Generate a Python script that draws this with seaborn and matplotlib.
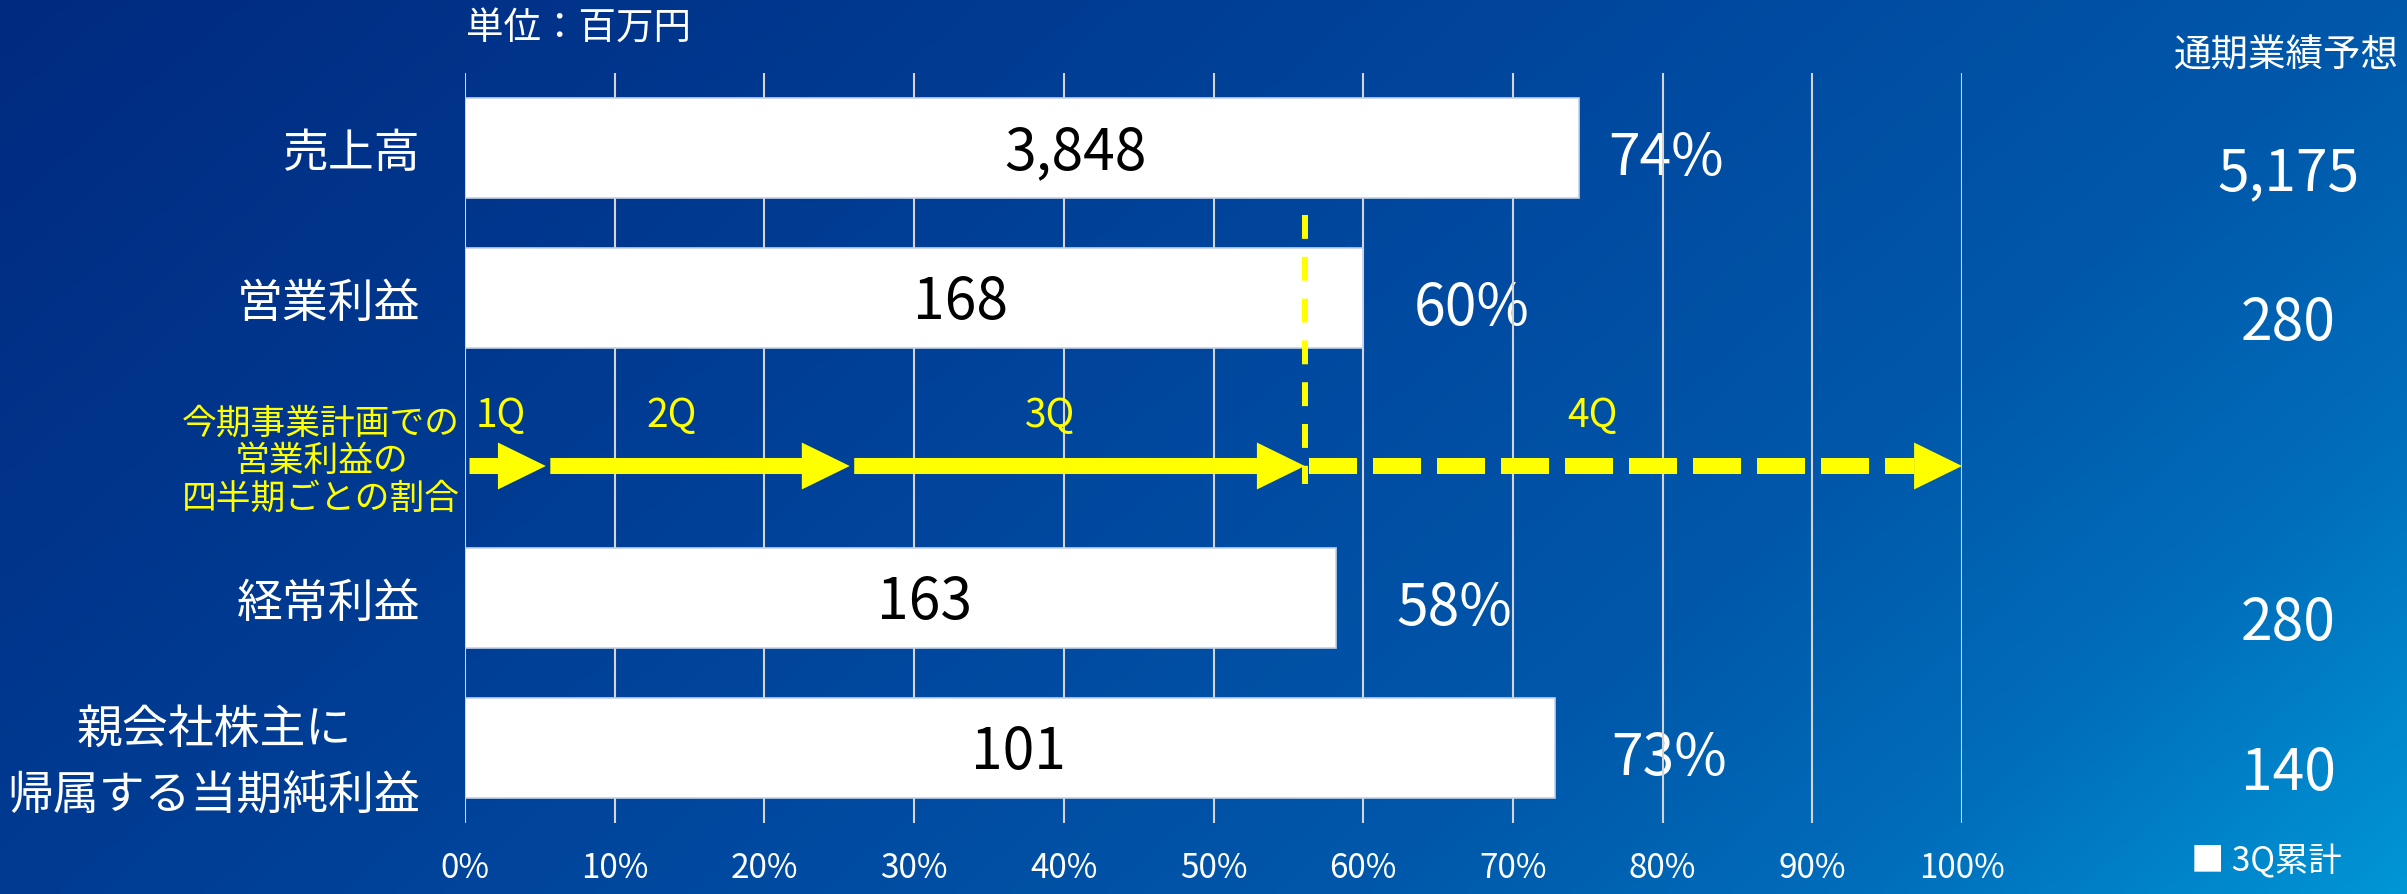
import numpy as np
import pandas as pd
import matplotlib
matplotlib.use('Agg')
import matplotlib.pyplot as plt
import seaborn as sns
from matplotlib.colors import LinearSegmentedColormap
from matplotlib.patches import Polygon

# ---------------- data ----------------
categories = ['売上高', '営業利益', '経常利益', '親会社株主に\n帰属する当期純利益']
actual_3q = [3848, 168, 163, 101]          # 3Q累計 (百万円)
forecast = [5175, 280, 280, 140]           # 通期業績予想 (百万円)
progress_pct = [74.4, 60.0, 58.2, 72.8]    # 進捗率 (%)
quarter_labels = ['1Q', '2Q', '3Q', '4Q']
plan_cum_pct = [0.0, 5.4, 25.7, 56.1, 100.0]  # 営業利益計画の四半期累計割合
x_ticks = [0, 10, 20, 30, 40, 50, 60, 70, 80, 90, 100]

ARROW_SLOT = '__arrow__'
order = categories[:2] + [ARROW_SLOT] + categories[2:]
df = pd.DataFrame({'category': categories, 'pct': progress_pct})

plt.rcParams['font.family'] = ['Noto Sans CJK JP', 'DejaVu Sans']
YELLOW = '#FFFF00'

W, H = 2407, 894
fig = plt.figure(figsize=(W / 100, H / 100), dpi=100)

# background gradient
bg = fig.add_axes([0, 0, 1, 1], zorder=-10)
xx, yy = np.meshgrid(np.linspace(0, 1, 400), np.linspace(0, 1, 160))
t = 0.7 * xx + 0.3 * yy
cmap = LinearSegmentedColormap.from_list('bg', [
    (0.0, '#002a80'), (0.3, '#003b92'), (0.5, '#0049a0'),
    (0.7, '#0058aa'), (0.85, '#006fbc'), (1.0, '#0096d6')])
bg.imshow(t, cmap=cmap, aspect='auto', extent=[0, 1, 1, 0], vmin=0, vmax=1)
bg.set_axis_off()

ax = fig.add_axes([465 / W, 1 - 823 / H, (1962 - 465) / W, (823 - 73) / H])
ax.set_facecolor('none')

sns.barplot(data=df, y='category', x='pct', order=order, orient='h',
            color='white', saturation=1, width=0.667,
            edgecolor='#c3d1e6', linewidth=1.2, ax=ax, zorder=2)

ax.set_xlim(0, 100)
ax.set_ylim(4.5, -0.5)
ax.set_xlabel('')
ax.set_ylabel('')
for s in ax.spines.values():
    s.set_visible(False)

ax.set_axisbelow(True)
ax.xaxis.grid(True, color='#d4d4d4', linewidth=1.5)
ax.yaxis.grid(False)
ax.set_xticks(x_ticks)
ax.set_xticklabels([f'{v}%' for v in x_ticks], color='white', fontsize=24)
ax.tick_params(axis='x', length=0, pad=20)

ax.set_yticks(range(len(order)))
ax.set_yticklabels(['' if c == ARROW_SLOT else c for c in order],
                   color='white', fontsize=33, linespacing=1.5)
for lab in ax.get_yticklabels():
    lab.set_multialignment('center')
ax.tick_params(axis='y', length=0, pad=32)

# label layout (x positions in % units of the axis)
value_label_x = [40.8, 33.1, 30.7, 37.0]
pct_label_x = [76.4, 63.4, 62.2, 76.6]

for cat, val, pct, fc, vx, px in zip(categories, actual_3q, progress_pct,
                                     forecast, value_label_x, pct_label_x):
    yi = order.index(cat)
    ax.text(vx, yi + 0.03, f'{val:,}', ha='center', va='center',
            fontsize=41, color='black', zorder=5)
    ax.text(px, yi + 0.07, f'{round(pct)}%', ha='left', va='center',
            fontsize=41, color='white', zorder=0.3)
    ax.text(121.8, yi + 0.17, f'{fc:,}', ha='center', va='center',
            fontsize=41, color='white', clip_on=False)

ax.text(121.7, -0.61, '通期業績予想', ha='center', va='center',
        fontsize=27, color='white', clip_on=False)
ax.text(0.1, -0.79, '単位：百万円', ha='left', va='center',
        fontsize=27, color='white', clip_on=False)
ax.text(115.3, 4.76, '■ 3Q累計', ha='left', va='center',
        fontsize=24, color='white', clip_on=False)

# quarterly plan arrows
ay = 2.12
hw, hl, sw = 0.313, 3.2, 0.107
for q in range(3):
    start = plan_cum_pct[q] + 0.3
    end = plan_cum_pct[q + 1]
    ax.arrow(start, ay, end - start, 0, width=sw, head_width=hw,
             head_length=hl, length_includes_head=True, fc=YELLOW,
             ec='none', zorder=6, clip_on=False)
# 4Q dashed arrow
s4 = plan_cum_pct[3] + 0.3
e4 = plan_cum_pct[4]
ln, = ax.plot([s4, e4 - hl], [ay, ay], color=YELLOW, lw=11.52,
              solid_capstyle='butt', zorder=6, clip_on=False)
ln.set_dashes((3, 1))
ln.set_dash_capstyle('butt')
ax.add_patch(Polygon([[e4 - hl, ay - hw / 2], [e4, ay], [e4 - hl, ay + hw / 2]],
                     closed=True, fc=YELLOW, ec='none', zorder=6, clip_on=False))

# vertical dashed line at end of 3Q plan
vl, = ax.plot([plan_cum_pct[3], plan_cum_pct[3]], [0.447, 2.24], color=YELLOW,
              lw=4.3, zorder=7)
vl.set_dashes((4, 3))
vl.set_dash_capstyle('butt')

q_label_x = [2.4, 13.8, 39.1, 75.3]
for lbl, qx in zip(quarter_labels, q_label_x):
    ax.text(qx, 1.79, lbl, ha='center', va='center', fontsize=28,
            color=YELLOW, zorder=6)

ax.text(-9.6, 2.09, '今期事業計画での\n営業利益の\n四半期ごとの割合',
        ha='center', va='center', fontsize=25, color=YELLOW,
        linespacing=1.1, clip_on=False)

fig.savefig('out.png', dpi=100)
